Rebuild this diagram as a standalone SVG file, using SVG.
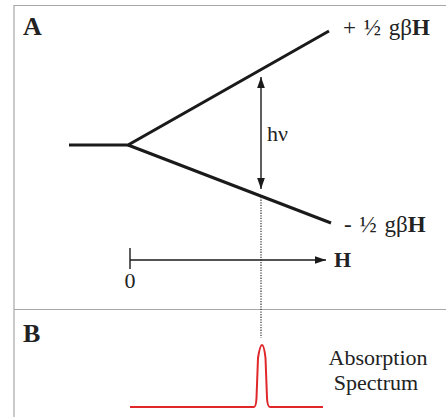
<svg xmlns="http://www.w3.org/2000/svg" width="446" height="417" viewBox="0 0 446 417">
<style>
text{font-family:"Liberation Serif","Times New Roman",serif;fill:#222;}
.lbl{font-size:26px;font-weight:bold;}
.t{font-size:22px;}
.e{font-size:23px;word-spacing:2px;}
.frame{stroke:#a8a8a8;stroke-width:1.2;fill:none;}
.level{stroke:#1a1a1a;stroke-width:3;fill:none;stroke-linecap:butt;}
.thin{stroke:#1a1a1a;stroke-width:1.4;fill:none;}
</style>
<defs>
<marker id="ah2" viewBox="0 0 10 10" refX="10" refY="5" markerWidth="11" markerHeight="11" orient="auto-start-reverse" markerUnits="userSpaceOnUse">
<path d="M0,1.5 L10,5 L0,8.5 z" fill="#1a1a1a"/>
</marker>
</defs>
<rect width="446" height="417" fill="#fff"/>
<g id="frame">
<path class="frame" d="M14,417 V5.5 H446"/>
<path class="frame" d="M14,309.5 H446"/>
</g>
<g id="panelA-label"><text class="lbl" x="23" y="35">A</text></g>
<g id="panelB-label"><text class="lbl" x="23" y="342">B</text></g>
<g id="levels">
<path class="level" d="M69,145 H128 L329,31"/>
<path class="level" d="M128,145 L331,223"/>
</g>
<g id="upper-label"><text class="e" x="343" y="35">+ ½ gβ<tspan font-weight="bold">H</tspan></text></g>
<g id="lower-label"><text class="e" x="344" y="232">- ½ gβ<tspan font-weight="bold">H</tspan></text></g>
<g id="connectors">
<line class="thin" x1="261" y1="77" x2="261" y2="189" marker-start="url(#ah2)" marker-end="url(#ah2)"/>
<line x1="261" y1="197" x2="261" y2="338" stroke="#333" stroke-width="1.2" stroke-dasharray="1.3 1.3"/>
<line class="thin" x1="130" y1="260" x2="326" y2="260" marker-end="url(#ah2)"/>
<line class="thin" x1="130" y1="248" x2="130" y2="269"/>
</g>
<g id="hv-label"><text class="t" x="267" y="141">hν</text></g>
<g id="axis-labels">
<text class="t" x="130" y="288" text-anchor="middle">0</text>
<text class="t" x="334" y="267" font-weight="bold">H</text>
</g>
<g id="spectrum">
<path d="M130,407 H254 Q256,407 256.5,398 L258,358 Q260,345 262,345 Q264,345 265.5,358 L267,398 Q267.5,407 270,407 H323" fill="none" stroke="#e0282a" stroke-width="2"/>
</g>
<g id="spectrum-label">
<text class="t" x="378" y="365" text-anchor="middle">Absorption</text>
<text class="t" x="376" y="390" text-anchor="middle">Spectrum</text>
</g>
</svg>
